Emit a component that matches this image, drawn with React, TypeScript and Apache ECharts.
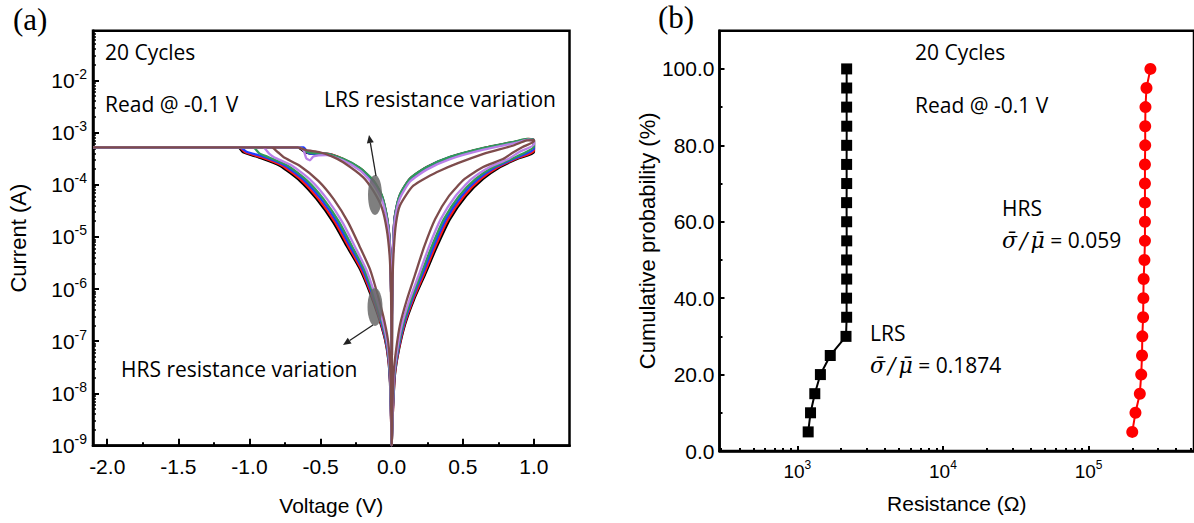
import React, { useEffect, useRef } from 'react';
import * as echarts from 'echarts';

// ---------- Panel (a): I–V loops, [voltage (V), current (A)] ----------
const cycleBlack = [
  [0, 1e-9], [-0.005, 3.6e-9], [-0.012, 1.6e-8], [-0.024, 4.5e-8], [-0.047, 1.08e-7], [-0.094, 3.0e-7],
  [-0.153, 8.5e-7], [-0.223, 2.4e-6], [-0.317, 6.7e-6], [-0.411, 1.9e-5], [-0.528, 5.3e-5], [-0.646, 1.19e-4],
  [-0.787, 2.32e-4], [-0.939, 3.37e-4], [-1.045, 4.2e-4], [-1.08, 5.2e-4],
  [-2.1, 5.2e-4], [-0.66, 5.2e-4],
  [-0.61, 4.2e-4], [-0.55, 3.9e-4], [-0.46, 3.9e-4], [-0.34, 3.08e-4], [-0.223, 2.05e-4], [-0.13, 1.18e-4],
  [-0.07, 6.1e-5], [-0.035, 2.5e-5], [-0.017, 1.04e-5], [-0.007, 2.4e-6], [-0.002, 3e-7], [0, 1e-9],
  [0.002, 3e-7], [0.006, 2.4e-6], [0.012, 1.0e-5], [0.023, 2.5e-5], [0.058, 6.2e-5], [0.129, 1.29e-4],
  [0.246, 2.16e-4], [0.41, 3.37e-4], [0.645, 5.0e-4], [0.88, 6.7e-4], [0.97, 7.4e-4], [1.0, 7.0e-4],
  [1.0, 4.2e-4], [0.882, 3.12e-4], [0.763, 2.19e-4], [0.643, 1.29e-4], [0.523, 6.1e-5], [0.41, 2.19e-5],
  [0.319, 6.6e-6], [0.235, 1.92e-6], [0.157, 6.3e-7], [0.094, 2.1e-7], [0.051, 6.9e-8], [0.023, 2.3e-8],
  [0.009, 4.9e-9], [0, 1e-9],
];
const cycleRed = [
  [0, 1e-9], [-0.005, 3.6e-9], [-0.011, 1.6e-8], [-0.023, 4.5e-8], [-0.045, 1.08e-7], [-0.09, 3.0e-7],
  [-0.147, 8.5e-7], [-0.215, 2.4e-6], [-0.306, 6.7e-6], [-0.398, 1.9e-5], [-0.514, 5.3e-5], [-0.63, 1.19e-4],
  [-0.77, 2.32e-4], [-0.917, 3.37e-4], [-1.03, 4.2e-4], [-1.072, 5.2e-4],
  [-2.1, 5.2e-4], [-0.65, 5.2e-4],
  [-0.6, 4.25e-4], [-0.55, 3.95e-4], [-0.46, 3.95e-4], [-0.34, 3.12e-4], [-0.223, 2.07e-4], [-0.13, 1.19e-4],
  [-0.07, 6.2e-5], [-0.035, 2.5e-5], [-0.017, 1.05e-5], [-0.007, 2.4e-6], [-0.002, 3e-7], [0, 1e-9],
  [0.002, 3e-7], [0.006, 2.5e-6], [0.012, 1.05e-5], [0.023, 2.6e-5], [0.058, 6.4e-5], [0.129, 1.31e-4],
  [0.246, 2.18e-4], [0.41, 3.4e-4], [0.645, 5.05e-4], [0.88, 6.8e-4], [0.96, 7.6e-4], [1.0, 7.2e-4],
  [1.0, 4.5e-4], [0.87, 3.12e-4], [0.749, 2.19e-4], [0.627, 1.29e-4], [0.509, 6.1e-5], [0.397, 2.19e-5],
  [0.308, 6.6e-6], [0.227, 1.92e-6], [0.151, 6.3e-7], [0.09, 2.1e-7], [0.049, 6.9e-8], [0.022, 2.3e-8],
  [0.009, 4.9e-9], [0, 1e-9],
];
const cycleBlue = [
  [0, 1e-9], [-0.0045, 3.6e-9], [-0.011, 1.6e-8], [-0.021, 4.5e-8], [-0.042, 1.08e-7], [-0.085, 3.0e-7],
  [-0.14, 8.5e-7], [-0.204, 2.4e-6], [-0.293, 6.7e-6], [-0.383, 1.9e-5], [-0.496, 5.3e-5], [-0.611, 1.19e-4],
  [-0.749, 2.32e-4], [-0.89, 3.37e-4], [-1.02, 4.3e-4], [-1.068, 5.2e-4],
  [-2.1, 5.2e-4], [-0.62, 5.2e-4],
  [-0.59, 4.1e-4], [-0.55, 3.9e-4], [-0.46, 3.9e-4], [-0.34, 3.05e-4], [-0.223, 2.02e-4], [-0.13, 1.16e-4],
  [-0.07, 6.0e-5], [-0.035, 2.45e-5], [-0.017, 1.02e-5], [-0.007, 2.3e-6], [-0.002, 3e-7], [0, 1e-9],
  [0.002, 3e-7], [0.006, 2.4e-6], [0.012, 1.02e-5], [0.023, 2.55e-5], [0.058, 6.3e-5], [0.129, 1.3e-4],
  [0.246, 2.17e-4], [0.41, 3.38e-4], [0.645, 5.0e-4], [0.88, 6.75e-4], [0.96, 7.5e-4], [1.0, 7.1e-4],
  [1.0, 4.9e-4], [0.855, 3.12e-4], [0.731, 2.19e-4], [0.608, 1.29e-4], [0.491, 6.1e-5], [0.382, 2.19e-5],
  [0.295, 6.6e-6], [0.216, 1.92e-6], [0.1435, 6.3e-7], [0.085, 2.1e-7], [0.046, 6.9e-8], [0.02, 2.3e-8],
  [0.008, 4.9e-9], [0, 1e-9],
];
const cycleGreen = [
  [0, 1e-9], [-0.004, 3.6e-9], [-0.01, 1.6e-8], [-0.02, 4.5e-8], [-0.039, 1.08e-7], [-0.08, 3.0e-7],
  [-0.133, 8.5e-7], [-0.194, 2.4e-6], [-0.28, 6.7e-6], [-0.368, 1.9e-5], [-0.479, 5.3e-5], [-0.593, 1.19e-4],
  [-0.73, 2.32e-4], [-0.865, 3.37e-4], [-0.93, 4.0e-4], [-0.975, 5.2e-4],
  [-2.1, 5.2e-4], [-0.65, 5.2e-4],
  [-0.6, 4.3e-4], [-0.55, 4.0e-4], [-0.46, 3.95e-4], [-0.34, 3.15e-4], [-0.223, 2.1e-4], [-0.13, 1.22e-4],
  [-0.07, 6.4e-5], [-0.035, 2.6e-5], [-0.017, 1.08e-5], [-0.007, 2.5e-6], [-0.002, 3e-7], [0, 1e-9],
  [0.002, 3e-7], [0.006, 2.5e-6], [0.012, 1.05e-5], [0.023, 2.6e-5], [0.058, 6.5e-5], [0.129, 1.32e-4],
  [0.246, 2.2e-4], [0.41, 3.42e-4], [0.645, 5.1e-4], [0.88, 6.9e-4], [0.95, 7.6e-4], [1.0, 7.3e-4],
  [1.0, 5.4e-4], [0.841, 3.12e-4], [0.714, 2.19e-4], [0.59, 1.29e-4], [0.474, 6.1e-5], [0.367, 2.19e-5],
  [0.282, 6.6e-6], [0.206, 1.92e-6], [0.1365, 6.3e-7], [0.08, 2.1e-7], [0.043, 6.9e-8], [0.019, 2.3e-8],
  [0.0075, 4.9e-9], [0, 1e-9],
];
const cyclePurple = [
  [0, 1e-9], [-0.004, 3.6e-9], [-0.009, 1.6e-8], [-0.018, 4.5e-8], [-0.035, 1.08e-7], [-0.072, 3.0e-7],
  [-0.122, 8.5e-7], [-0.18, 2.4e-6], [-0.261, 6.7e-6], [-0.346, 1.9e-5], [-0.454, 5.3e-5], [-0.565, 1.19e-4],
  [-0.7, 2.32e-4], [-0.827, 3.37e-4], [-0.86, 3.9e-4], [-0.905, 5.2e-4],
  [-2.1, 5.2e-4], [-0.65, 5.2e-4],
  [-0.62, 4.6e-4], [-0.6, 3.2e-4], [-0.575, 2.95e-4], [-0.55, 3.5e-4], [-0.46, 3.7e-4], [-0.34, 2.9e-4],
  [-0.223, 1.88e-4], [-0.13, 1.02e-4], [-0.07, 5.3e-5], [-0.035, 2.15e-5], [-0.017, 9.2e-6], [-0.007, 2.1e-6],
  [-0.002, 3e-7], [0, 1e-9],
  [0.002, 3e-7], [0.006, 2.2e-6], [0.012, 9e-6], [0.023, 2.2e-5], [0.058, 5.5e-5], [0.129, 1.15e-4],
  [0.246, 1.95e-4], [0.41, 3.1e-4], [0.645, 4.7e-4], [0.88, 6.4e-4], [0.96, 7.3e-4], [1.0, 7.0e-4],
  [1.0, 5.9e-4], [0.9, 4.3e-4], [0.82, 3.12e-4], [0.689, 2.19e-4], [0.562, 1.29e-4], [0.449, 6.1e-5],
  [0.345, 2.19e-5], [0.263, 6.6e-6], [0.192, 1.92e-6], [0.126, 6.3e-7], [0.072, 2.1e-7], [0.039, 6.9e-8],
  [0.017, 2.3e-8], [0.007, 4.9e-9], [0, 1e-9],
];
const cycleBrown = [
  [0, 1e-9], [-0.003, 3.6e-9], [-0.007, 1.6e-8], [-0.014, 4.5e-8], [-0.027, 1.08e-7], [-0.059, 3.0e-7],
  [-0.103, 8.5e-7], [-0.153, 2.4e-6], [-0.227, 6.7e-6], [-0.306, 1.9e-5], [-0.408, 5.3e-5], [-0.516, 1.19e-4],
  [-0.647, 2.32e-4], [-0.759, 3.37e-4], [-0.8, 4.2e-4], [-0.845, 5.2e-4],
  [-2.1, 5.2e-4], [-0.66, 5.2e-4],
  [-0.6, 4.6e-4], [-0.504, 4.2e-4], [-0.42, 3.5e-4], [-0.341, 2.7e-4], [-0.2, 1.39e-4], [-0.13, 7.7e-5],
  [-0.07, 3.7e-5], [-0.035, 1.4e-5], [-0.015, 4.5e-6], [-0.006, 1.2e-6], [-0.002, 2e-7], [0, 1e-9],
  [0.002, 2e-7], [0.006, 1.5e-6], [0.015, 6e-6], [0.03, 1.8e-5], [0.058, 4.0e-5], [0.152, 9.6e-5],
  [0.339, 1.86e-4], [0.645, 3.9e-4], [0.85, 5.6e-4], [0.95, 7.1e-4], [1.0, 7.2e-4],
  [1.0, 6.8e-4], [0.92, 5.3e-4], [0.85, 4.1e-4], [0.782, 3.12e-4], [0.643, 2.19e-4], [0.513, 1.29e-4],
  [0.403, 6.1e-5], [0.305, 2.19e-5], [0.229, 6.6e-6], [0.165, 1.92e-6], [0.107, 6.3e-7], [0.059, 2.1e-7],
  [0.031, 6.9e-8], [0.013, 2.3e-8], [0.005, 4.9e-9], [0, 1e-9],
];
const cycles = [cycleBlack, cycleRed, cycleBlue, cycleGreen, cyclePurple, cycleBrown];
const cycleColors = ['#000000', '#ff1a1a', '#1f3cff', '#2e9a5a', '#b980e8', '#7e4c4c'];

const aXTicks = [-2.0, -1.5, -1.0, -0.5, 0.0, 0.5, 1.0];
const aXMinorTicks = [-1.75, -1.25, -0.75, -0.25, 0.25, 0.75];
const aYTicks = [1e-9, 1e-8, 1e-7, 1e-6, 1e-5, 1e-4, 1e-3, 1e-2];

// ---------- Panel (b): cumulative probability ----------
const probability = [5, 10, 15, 20, 25, 30, 35, 40, 45, 50, 55, 60, 65, 70, 75, 80, 85, 90, 95, 100];
const lrsResistance = [1187, 1232, 1318, 1440, 1683, 2159, 2181, 2178, 2182, 2180, 2183, 2181, 2179, 2182, 2180, 2181, 2183, 2180, 2182, 2181];
const hrsResistance = [199600, 210000, 225000, 230000, 233000, 234000, 237000, 238000, 239000, 242000, 244000, 244000, 244000, 244000, 244000, 245000, 245000, 246000, 250000, 266000];
const bYTicks = [0, 20, 40, 60, 80, 100];
const bYMinorTicks = [10, 30, 50, 70, 90];
const bXTicks = [1e3, 1e4, 1e5];
const bXDecades = [1e2, 1e3, 1e4, 1e5];

const AX = 'Liberation Sans';
const TX = 'Open Sans';

function minorLog(decades: number[], lo: number, hi: number) {
  const out: number[] = [];
  decades.forEach((d) => {
    for (let k = 2; k <= 9; k++) {
      const v = k * d;
      if (v > lo && v < hi) out.push(v);
    }
  });
  return out;
}

function arrow(x1: number, y1: number, x2: number, y2: number) {
  const dx = x2 - x1, dy = y2 - y1;
  const L = Math.hypot(dx, dy);
  const ux = dx / L, uy = dy / L;
  const hl = 8, hw = 3.5;
  const bx = x2 - ux * hl, by = y2 - uy * hl;
  return [
    { type: 'line', z: 100, shape: { x1, y1, x2: bx, y2: by }, style: { stroke: '#222', lineWidth: 1.3 } },
    {
      type: 'polygon', z: 100,
      shape: { points: [[x2, y2], [bx - uy * hw, by + ux * hw], [bx + uy * hw, by - ux * hw]] },
      style: { fill: '#222' },
    },
  ];
}

function txt(x: number, y: number, text: string, size = 21, family = TX) {
  return {
    type: 'text', x, y, z: 100,
    style: { text, fontSize: size, fontFamily: family, fill: '#000', verticalAlign: 'middle', align: 'left' },
  };
}

function ratioTxt(x: number, y: number, value: string) {
  return {
    type: 'text', x, y, z: 100,
    style: {
      text: `{g|σ\u0304}{sl|/}{g|μ\u0304}{n| = ${value}}`,
      verticalAlign: 'middle', align: 'left', fill: '#000',
      rich: {
        g: { fontFamily: 'DejaVu Serif', fontStyle: 'italic', fontSize: 22, fill: '#000' },
        sl: { fontFamily: 'DejaVu Serif', fontStyle: 'italic', fontSize: 22, fill: '#000', padding: [0, 3, 0, 3] },
        n: { fontFamily: TX, fontSize: 21, fill: '#000' },
      },
    },
  };
}

export default function App() {
  const ref = useRef<HTMLDivElement>(null);
  useEffect(() => {
    if (!ref.current) return;
    const chart = echarts.init(ref.current, null, { renderer: 'svg' });
    const supRich = (big: number, small: number) => ({
      b: { fontSize: big, fontFamily: AX, color: '#000', lineHeight: big + 6, verticalAlign: 'middle' },
      s: { fontSize: small, fontFamily: AX, color: '#000', lineHeight: small + 2, verticalAlign: 'top' },
    });
    const expFmt = (v: number) => `{b|10}{s|${Math.round(Math.log10(v))}}`;
    const lineBlack = { color: '#000', width: 2.5 };

    const option: any = {
      animation: false,
      backgroundColor: '#fff',
      grid: [
        { left: 93, top: 30.7, width: 476.5, height: 415, show: true, borderColor: '#000', borderWidth: 2.5, backgroundColor: 'transparent' },
        { left: 719.5, top: 30.7, width: 481.5, height: 420.3, show: true, borderColor: '#000', borderWidth: 2.5, backgroundColor: 'transparent' },
      ],
      xAxis: [
        {
          gridIndex: 0, type: 'value', min: -2.1, max: 1.25, position: 'bottom',
          axisLine: { show: true, onZero: false, lineStyle: lineBlack },
          axisTick: { show: true, inside: true, length: 7, customValues: aXTicks, lineStyle: { color: '#000', width: 2 } },
          axisLabel: { customValues: aXTicks, formatter: (v: number) => v.toFixed(1), fontSize: 21, fontFamily: AX, color: '#000', margin: 10 },
          splitLine: { show: false },
          name: 'Voltage (V)', nameLocation: 'middle', nameGap: 49,
          nameTextStyle: { fontSize: 21, fontFamily: AX, color: '#000' },
        },
        {
          gridIndex: 0, type: 'value', min: -2.1, max: 1.25, position: 'bottom',
          axisLine: { show: false, onZero: false },
          axisTick: { show: true, inside: true, length: 3.5, customValues: aXMinorTicks, lineStyle: { color: '#000', width: 2 } },
          axisLabel: { show: false }, splitLine: { show: false },
        },
        {
          gridIndex: 1, type: 'log', min: 292, max: 530000, position: 'bottom',
          axisLine: { show: true, onZero: false, lineStyle: lineBlack },
          axisTick: { show: true, inside: true, length: 5, customValues: bXTicks, lineStyle: { color: '#000', width: 2 } },
          axisLabel: { customValues: bXTicks, formatter: expFmt, rich: supRich(19, 12), margin: 8 },
          splitLine: { show: false }, minorTick: { show: false },
          name: 'Resistance (Ω)', nameLocation: 'middle', nameGap: 42,
          nameTextStyle: { fontSize: 21, fontFamily: AX, color: '#000' },
        },
        {
          gridIndex: 1, type: 'log', min: 292, max: 530000, position: 'bottom',
          axisLine: { show: false, onZero: false },
          axisTick: { show: true, inside: true, length: 3, customValues: minorLog(bXDecades, 292, 530000), lineStyle: { color: '#000', width: 2 } },
          axisLabel: { show: false }, splitLine: { show: false },
        },
      ],
      yAxis: [
        {
          gridIndex: 0, type: 'log', min: 9.9e-10, max: 0.09, position: 'left',
          axisLine: { show: true, onZero: false, lineStyle: lineBlack },
          axisTick: { show: true, inside: true, length: 6, customValues: aYTicks, lineStyle: { color: '#000', width: 2 } },
          axisLabel: { customValues: aYTicks, formatter: expFmt, rich: supRich(21, 14), margin: 6 },
          splitLine: { show: false },
          name: 'Current (A)', nameLocation: 'middle', nameGap: 64,
          nameTextStyle: { fontSize: 22, fontFamily: AX, color: '#000' },
        },
        {
          gridIndex: 0, type: 'log', min: 9.9e-10, max: 0.09, position: 'left',
          axisLine: { show: false, onZero: false },
          axisTick: { show: true, inside: true, length: 3, customValues: minorLog(aYTicks, 9.9e-10, 0.09), lineStyle: { color: '#000', width: 1.5 } },
          axisLabel: { show: false }, splitLine: { show: false },
        },
        {
          gridIndex: 1, type: 'value', min: 0, max: 110, position: 'left',
          axisLine: { show: true, onZero: false, lineStyle: lineBlack },
          axisTick: { show: true, inside: true, length: 5, customValues: bYTicks, lineStyle: { color: '#000', width: 2 } },
          axisLabel: { customValues: bYTicks, formatter: (v: number) => v.toFixed(1), fontSize: 21, fontFamily: AX, color: '#000', margin: 5 },
          splitLine: { show: false },
          name: 'Cumulative probability (%)', nameLocation: 'middle', nameGap: 57,
          nameTextStyle: { fontSize: 22, fontFamily: AX, color: '#000' },
        },
        {
          gridIndex: 1, type: 'value', min: 0, max: 110, position: 'left',
          axisLine: { show: false, onZero: false },
          axisTick: { show: true, inside: true, length: 3, customValues: bYMinorTicks, lineStyle: { color: '#000', width: 2 } },
          axisLabel: { show: false }, splitLine: { show: false },
        },
      ],
      series: [
        ...cycles.map((c, i) => ({
          type: 'line', xAxisIndex: 0, yAxisIndex: 0, data: c, showSymbol: false, symbol: 'none',
          smooth: 0.2, lineStyle: { color: cycleColors[i], width: 2.3 }, z: 2 + i,
        })),
        {
          type: 'line', xAxisIndex: 2, yAxisIndex: 2,
          data: lrsResistance.map((r, i) => [r, probability[i]]),
          symbol: 'rect', symbolSize: 11, itemStyle: { color: '#000' }, lineStyle: { color: '#000', width: 2 },
        },
        {
          type: 'line', xAxisIndex: 2, yAxisIndex: 2,
          data: hrsResistance.map((r, i) => [r, probability[i]]),
          symbol: 'circle', symbolSize: 12, itemStyle: { color: '#ff0000' }, lineStyle: { color: '#ff0000', width: 2 },
        },
      ],
      graphic: [
        txt(13, 19, '(a)', 31, 'Liberation Serif'),
        txt(658, 17, '(b)', 31, 'Liberation Serif'),
        txt(105, 52, '20 Cycles'),
        txt(105, 104, 'Read @ -0.1 V'),
        txt(324, 99, 'LRS resistance variation'),
        txt(121, 369, 'HRS resistance variation'),
        { type: 'ellipse', z: 100, shape: { cx: 375, cy: 195, rx: 7, ry: 20 }, style: { fill: 'rgba(105,105,105,0.85)' } },
        { type: 'ellipse', z: 100, shape: { cx: 375, cy: 307, rx: 7.5, ry: 19 }, style: { fill: 'rgba(105,105,105,0.85)' } },
        ...arrow(376, 176, 369, 135),
        ...arrow(373, 325, 343, 345),
        txt(915, 52, '20 Cycles'),
        txt(915, 105, 'Read @ -0.1 V'),
        txt(1002, 208, 'HRS'),
        ratioTxt(1002, 240, '0.059'),
        txt(870, 333, 'LRS'),
        ratioTxt(870, 365, '0.1874'),
      ],
    };
    chart.setOption(option);
    return () => chart.dispose();
  }, []);
  return <div ref={ref} style={{ position: 'absolute', left: 0, top: 0, width: 1194, height: 523, background: '#fff' }} />;
}
